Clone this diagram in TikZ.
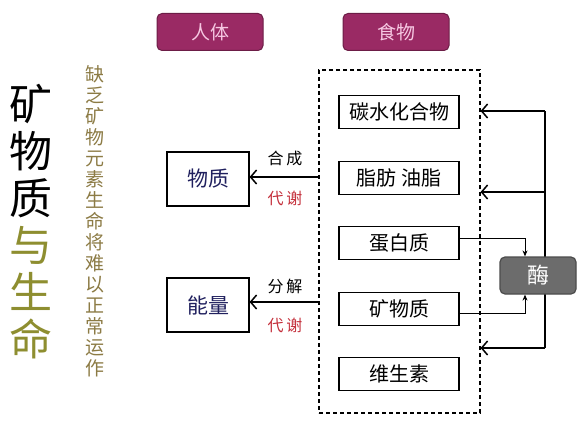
\documentclass[tikz,border=0pt]{standalone}
\usepackage{fontspec}
\setmainfont{Noto Sans CJK SC}
\usetikzlibrary{arrows.meta,positioning}

\definecolor{plum}{HTML}{9A2A64}
\definecolor{tabtext}{HTML}{F6C8E2}
\definecolor{navy}{HTML}{20205E}
\definecolor{redlab}{HTML}{C4303C}
\definecolor{olive}{HTML}{8E8E30}
\definecolor{tan}{HTML}{8C7B45}
\definecolor{enzgray}{HTML}{6C6C6C}

\begin{document}
\begin{tikzpicture}[x=1pt,y=-1pt,
  tab/.style={draw=plum!70!black,fill=plum,rounded corners=5pt,line width=1pt,
    minimum width=106pt,minimum height=37pt,text=tabtext,font=\fontsize{19}{19}\selectfont},
  item/.style={draw,line width=1.2pt,minimum width=120pt,minimum height=33pt,
    font=\fontsize{20}{20}\selectfont},
  part/.style={draw,line width=1.2pt,minimum width=82pt,minimum height=54pt,
    text=navy,font=\fontsize{21}{21}\selectfont},
  lab/.style={font=\fontsize{16}{16}\selectfont},
  feed/.style={-{Straight Barb[length=6pt,width=14pt,line width=1.5pt]},line width=1.4pt},
  tip/.style={-{Stealth[length=6pt,width=5pt]},line width=1pt}]
  \useasboundingbox (0,0) rectangle (584,428);

  % headings
  \node[tab] (body) at (210,32) {人体};
  \node[tab] (foodtab) at (396,32) {食物};

  % title on the left
  \node[align=center,font=\fontsize{43}{47}\selectfont] (title) at (31,222)
    {矿\\物\\质\\\textcolor{olive}{与}\\\textcolor{olive}{生}\\\textcolor{olive}{命}};
  \node[align=center,text=tan,font=\fontsize{19}{21}\selectfont] (motto) at (95,221)
    {缺\\乏\\矿\\物\\元\\素\\生\\命\\将\\难\\以\\正\\常\\运\\作};

  % food group
  \node[draw,line width=1.2pt,dash pattern=on 4pt off 3pt,minimum width=161pt,
    minimum height=343pt] (food) at (399.5,241.5) {};
  \node[item] (carb) at (399,112) {碳水化合物};
  \node[item] (fat) at (399,178) {脂肪\ 油脂};
  \node[item] (protein) at (399,243) {蛋白质};
  \node[item] (mineral) at (399,309) {矿物质};
  \node[item] (vitamin) at (399,374) {维生素};

  % body side
  \node[part] (matter) at (208,179) {物质};
  \node[part] (energy) at (208,305) {能量};

  \draw[feed] (food.west |- 0,177) -- (matter.east |- 0,177);
  \node[lab] (synth) at (285,158) {合\,成};
  \node[lab,text=redlab] (meta1) at (285,198) {代\,谢};
  \draw[feed] (food.west |- 0,302) -- (energy.east |- 0,302);
  \node[lab] (split) at (285,286) {分\,解};
  \node[lab,text=redlab] (meta2) at (285,325) {代\,谢};

  % enzyme loop
  \coordinate (r1) at (545,111);
  \coordinate (r2) at (545,192);
  \coordinate (r3) at (545,348);
  \draw[line width=1.4pt] (r1) -- (r3);
  \draw[feed] (r1) -- (food.east |- r1);
  \draw[feed] (r2) -- (food.east |- r2);
  \draw[feed] (r3) -- (food.east |- r3);
  \node[draw=black!70,fill=enzgray,line width=1.2pt,rounded corners=5pt,
    minimum width=76pt,minimum height=37pt,text=white,
    font=\fontsize{22}{22}\selectfont] (enzyme) at (538,275.5) {酶};
  \draw[tip] ([yshift=5pt]protein.east) -| ([xshift=-13pt]enzyme.north);
  \draw[tip] ([yshift=-4pt]mineral.east) -| ([xshift=-13pt]enzyme.south);
\end{tikzpicture}
\end{document}
